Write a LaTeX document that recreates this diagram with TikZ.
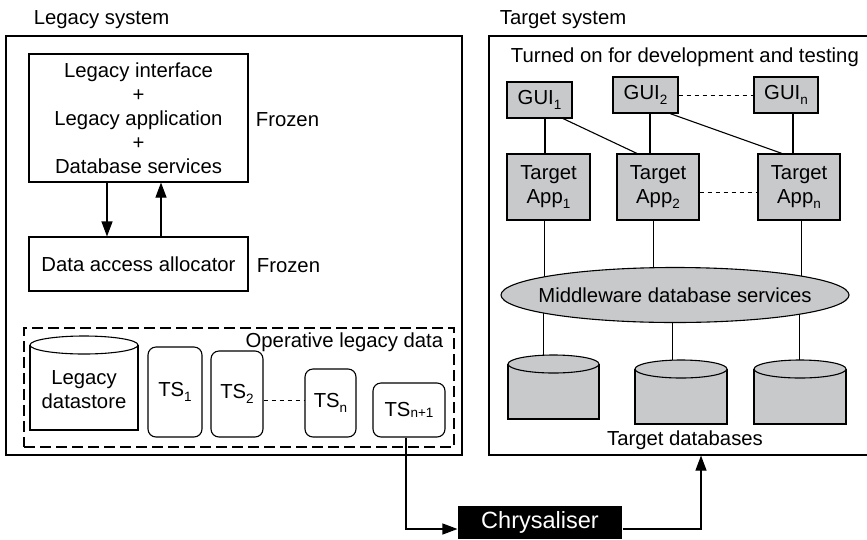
\documentclass[tikz,border=0pt]{standalone}
\usepackage{fontspec}
\setmainfont{Liberation Sans}
\usetikzlibrary{arrows.meta,shapes.geometric,backgrounds}
\definecolor{boxgray}{RGB}{200,201,203}
\newcommand\subs[1]{\raisebox{-4.5pt}{\fontsize{13.5}{13.5}\selectfont #1}}
\newcommand\tcyl[4]{%
  \filldraw[fill=boxgray] (#1,#3+9) -- (#1,#4) -- (#2,#4) -- (#2,#3+9);
  \filldraw[fill=boxgray] ({(#1+#2)/2},#3+9) ellipse [x radius={(#2-#1)/2*1pt}, y radius=9pt];}
\begin{document}
\begin{tikzpicture}[x=1pt,y=-1pt, line width=1.1pt, font=\fontsize{20.3}{24}\selectfont,
  box/.style={draw, inner sep=0pt, align=center},
  gbox/.style={box, fill=boxgray},
  tsbox/.style={box, rounded corners=8pt},
  arr/.style={-{Triangle[length=15pt,width=11pt]}},
  dots/.style={dash pattern=on 4pt off 4pt, line width=0.8pt}]
\useasboundingbox (0,0) rectangle (867,539);
\clip (0,0) rectangle (867,539);

% ---------- legacy side ----------
\node[anchor=west] (lsl) at (30,20) {Legacy system};
\node[box, minimum width=456pt, minimum height=419pt] (leg) at (234,245.5) {};
\node[box, minimum width=219pt, minimum height=128pt] (li) at (138.5,118)
  {Legacy interface\\+\\Legacy application\\+\\Database services};
\node[anchor=west] (fz1) at (252,120) {Frozen};
\node[box, minimum width=219pt, minimum height=54pt] (da) at (138.5,264) {Data access allocator};
\node[anchor=west] (fz2) at (253,266) {Frozen};
\draw[arr] ([xshift=-31.5pt]li.south) -- ([xshift=-31.5pt]da.north);
\draw[arr] ([xshift=22.5pt]da.north) -- ([xshift=22.5pt]li.south);

\node[draw, dash pattern=on 11pt off 5pt, minimum width=430pt, minimum height=119pt, inner sep=0pt] (old) at (239,387.5) {};
\node[anchor=east] (oldl) at (447,342) {Operative legacy data};

\filldraw[fill=white] (30,345) -- (30,430) -- (138,430) -- (138,345);
\draw (84,345) ellipse [x radius=54pt, y radius=9pt];
\node[align=center] (lds) at (84,390) {Legacy\\datastore};

\node[tsbox, minimum width=54pt, minimum height=90pt] (ts1) at (175,392) {TS\subs{1}};
\node[tsbox, minimum width=52pt, minimum height=86pt] (ts2) at (237,394) {TS\subs{2}};
\node[tsbox, minimum width=51pt, minimum height=68pt] (tsn) at (330.5,403) {TS\subs{n}};
\node[tsbox, minimum width=72pt, minimum height=54pt] (tsn1) at (409,410)
  {TS\raisebox{-1pt}{\fontsize{13.5}{13.5}\selectfont n+1}};
\draw[dots] ([yshift=3pt]ts2.east |- tsn.west) -- ([yshift=3pt]tsn.west);

% ---------- target side ----------
\node[anchor=west] (tsl) at (496,20) {Target system};
\node[box, minimum width=381pt, minimum height=419pt] (tgt) at (679.5,245.5) {};
\node[anchor=west] (ton) at (507,57) {Turned on for development and testing};

\node[gbox, minimum width=65pt, minimum height=36pt] (gui1) at (539.5,100) {GUI\subs{1}};
\node[gbox, minimum width=65pt, minimum height=36pt] (gui2) at (645.5,95) {GUI\subs{2}};
\node[gbox, minimum width=64pt, minimum height=36pt] (guin) at (786,95) {GUI\subs{n}};

\node[gbox, minimum width=83pt, minimum height=66pt] (app1) at (548.5,187) {Target\\App\subs{1}};
\node[gbox, minimum width=82pt, minimum height=66pt] (app2) at (658,187) {Target\\App\subs{2}};
\node[gbox, minimum width=82pt, minimum height=66pt] (appn) at (799,187) {Target\\App\subs{n}};

\draw ([xshift=5.5pt]gui1.south) -- ([xshift=5.5pt]gui1.south |- app1.north);
\draw ([xshift=23.5pt]gui1.south) -- ([xshift=-21pt]app2.north);
\draw ([xshift=4.5pt]gui2.south) -- ([xshift=4.5pt]gui2.south |- app2.north);
\draw ([xshift=24.5pt]gui2.south) -- ([xshift=-17pt]appn.north);
\draw ([xshift=7pt]guin.south) -- ([xshift=7pt]guin.south |- appn.north);
\draw[dots] (gui2.east) -- (guin.west);
\draw[dots] ([yshift=-5pt]app2.east) -- ([yshift=-5pt]appn.west);

\node[ellipse, draw, fill=boxgray, minimum width=348pt, minimum height=55pt, inner sep=0pt] (mw) at (675,295) {};
\node (mwt) at (mw.center) {Middleware database services};

\coordinate (db1) at (543,362);
\coordinate (db2) at (672,367);
\coordinate (db3) at (799,367);
\tcyl{508}{599}{355}{419}
\tcyl{635}{727}{360}{424}
\tcyl{754}{846}{360}{424}
\node (tdb) at (685,440) {Target databases};

\node[fill=black, text=white, minimum width=164pt, minimum height=33pt, inner sep=0pt,
  font=\fontsize{23.5}{26}\selectfont] (chr) at (540,522.5) {Chrysaliser};
\draw[arr] ([xshift=-3pt]tsn1.south) |- ([yshift=-6.5pt]chr.west);
\draw[arr] ([yshift=-6.5pt]chr.east) -| ([xshift=21.5pt]tgt.south);

\begin{pgfonlayer}{background}
\draw ([xshift=-4.5pt]app1.south) -- ([xshift=-4.5pt]app1.south |- mw.center);
\draw ([xshift=-5pt]app2.south) -- ([xshift=-5pt]app2.south |- mw.center);
\draw ([xshift=2pt]appn.south) -- ([xshift=2pt]appn.south |- mw.center);
\draw (db1 |- mw.center) -- (db1);
\draw (db2 |- mw.center) -- (db2);
\draw (db3 |- mw.center) -- (db3);
\end{pgfonlayer}
\end{tikzpicture}
\end{document}
